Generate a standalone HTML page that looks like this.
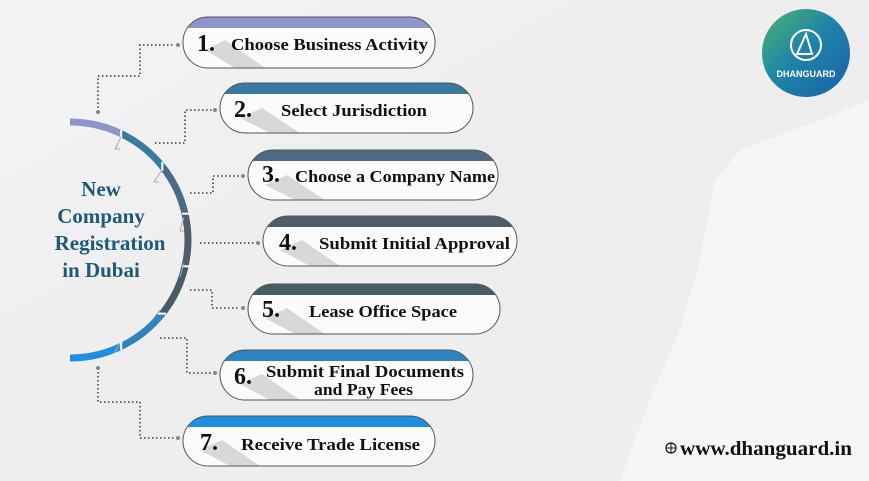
<!DOCTYPE html>
<html><head><style>
html,body{margin:0;padding:0;width:869px;height:481px;overflow:hidden;background:#f1f1f1}
svg{display:block}
text{font-family:"Liberation Serif",serif;font-weight:bold}
</style></head><body>
<svg width="869" height="481" viewBox="0 0 869 481" xmlns="http://www.w3.org/2000/svg">
<defs>
<linearGradient id="bg" x1="0" y1="0" x2="1" y2="1">
<stop offset="0" stop-color="#f4f4f4"/><stop offset="0.5" stop-color="#ededed"/><stop offset="1" stop-color="#f0f0f0"/></linearGradient>
<linearGradient id="logo" x1="0" y1="0" x2="1" y2="1">
<stop offset="0" stop-color="#4fb36b"/><stop offset="0.45" stop-color="#1f86a8"/><stop offset="1" stop-color="#1c5ea8"/></linearGradient>
</defs>
<rect width="869" height="481" fill="url(#bg)"/>
<path d="M869 100 L820 120 L740 150 L715 180 L700 260 L680 330 L650 400 L620 481 L869 481 Z" fill="#f6f6f6"/>

<g fill="none" stroke-width="7">
<path d="M70 122 A118 118 0 0 1 121.2 133.7" stroke="#8e95c9"/>
<path d="M121.2 133.7 A118 118 0 0 1 162.3 166.4" stroke="#3a7aa0"/>
<path d="M162.3 166.4 A118 118 0 0 1 185 213.7" stroke="#4d6a85"/>
<path d="M185 213.7 A118 118 0 0 1 185 266.3" stroke="#4f5d68"/>
<path d="M185 266.3 A118 118 0 0 1 162.3 313.6" stroke="#455c66"/>
<path d="M162.3 313.6 A118 118 0 0 1 121.2 346.3" stroke="#2f84bf"/>
<path d="M121.2 346.3 A118 118 0 0 1 70 358" stroke="#1e8fe0"/>
</g>
<g stroke="#ffffff" stroke-width="2">
<line x1="121.2" y1="130" x2="121.2" y2="138"/><line x1="162.3" y1="162" x2="162.3" y2="171"/>
<line x1="182" y1="213.7" x2="189" y2="213.7"/><line x1="182" y1="266.3" x2="189" y2="266.3"/>
<line x1="158" y1="313.6" x2="166" y2="313.6"/><line x1="121.2" y1="342" x2="121.2" y2="350"/>
</g>
<g fill="none" stroke="#aaa" stroke-width="1">
<path d="M121 137 l-6 12 h5"/><path d="M162 170 l-8 12 h5"/><path d="M184 217 l-4 14 h4"/>
<path d="M184 263 l-4 14"/><path d="M160 310 l-8 10"/><path d="M120 343 l-6 10"/>
</g>
<text x="101" y="196" font-size="21" fill="#1d5a7a" text-anchor="middle">New</text>
<text x="101" y="223" font-size="21" fill="#1d5a7a" text-anchor="middle">Company</text>
<text x="110" y="250" font-size="21" fill="#1d5a7a" text-anchor="middle">Registration</text>
<text x="101" y="277" font-size="21" fill="#1d5a7a" text-anchor="middle">in Dubai</text>

<g fill="none" stroke="#666" stroke-width="2" stroke-dasharray="1.5 2.5">
<path d="M98 112 V76 H140 V45 H175"/>
<path d="M155 143 H185 V110 H212"/>
<path d="M190 193 H213 V176 H240"/>
<path d="M200 243 H255"/>
<path d="M190 290 H212 V308 H240"/>
<path d="M160 338 H187 V373 H212"/>
<path d="M98 368 V402 H140 V438 H175"/>
</g>
<g fill="#888"><circle cx="178" cy="45" r="2"/><circle cx="215" cy="110" r="2"/><circle cx="243" cy="176" r="2"/><circle cx="258" cy="243" r="2"/><circle cx="243" cy="308" r="2"/><circle cx="215" cy="373" r="2"/><circle cx="178" cy="438" r="2"/><circle cx="98" cy="368" r="2"/><circle cx="98" cy="112" r="2"/></g>

<g>
<clipPath id="c1"><rect x="183" y="17" width="252" height="51" rx="25"/></clipPath>
<rect x="183" y="17" width="252" height="51" rx="25" fill="#fbfbfb"/>
<g clip-path="url(#c1)"><rect x="183" y="17" width="252" height="11" fill="#8e95c9"/><polygon points="205,50 225,40 265,68 235,68" fill="#d8d8d8"/></g>
<rect x="183" y="17" width="252" height="51" rx="25" fill="none" stroke="#555" stroke-width="1"/>
<text x="197" y="51" font-size="24" fill="#111">1.</text>
<text x="231" y="50" font-size="17" fill="#111" textLength="197" lengthAdjust="spacingAndGlyphs">Choose Business Activity</text>
</g>
<g>
<clipPath id="c2"><rect x="220" y="83" width="253" height="50" rx="25"/></clipPath>
<rect x="220" y="83" width="253" height="50" rx="25" fill="#fbfbfb"/>
<g clip-path="url(#c2)"><rect x="220" y="83" width="253" height="11" fill="#3a7aa0"/><polygon points="240,118 262,108 300,133 270,133" fill="#d8d8d8"/></g>
<rect x="220" y="83" width="253" height="50" rx="25" fill="none" stroke="#555"/>
<text x="234" y="117" font-size="24" fill="#111">2.</text>
<text x="281" y="116" font-size="17" fill="#111" textLength="146" lengthAdjust="spacingAndGlyphs">Select Jurisdiction</text>
</g>
<g>
<clipPath id="c3"><rect x="248" y="150" width="250" height="50" rx="25"/></clipPath>
<rect x="248" y="150" width="250" height="50" rx="25" fill="#fbfbfb"/>
<g clip-path="url(#c3)"><rect x="248" y="150" width="250" height="11" fill="#4d6a85"/><polygon points="265,185 287,175 325,200 295,200" fill="#d8d8d8"/></g>
<rect x="248" y="150" width="250" height="50" rx="25" fill="none" stroke="#555"/>
<text x="262" y="182" font-size="24" fill="#111">3.</text>
<text x="295" y="182" font-size="17" fill="#111" textLength="200" lengthAdjust="spacingAndGlyphs">Choose a Company Name</text>
</g>
<g>
<clipPath id="c4"><rect x="263" y="216" width="254" height="50" rx="25"/></clipPath>
<rect x="263" y="216" width="254" height="50" rx="25" fill="#fbfbfb"/>
<g clip-path="url(#c4)"><rect x="263" y="216" width="254" height="11" fill="#4f5d68"/><polygon points="280,250 302,240 340,266 310,266" fill="#d8d8d8"/></g>
<rect x="263" y="216" width="254" height="50" rx="25" fill="none" stroke="#555"/>
<text x="279" y="250" font-size="24" fill="#111">4.</text>
<text x="319" y="249" font-size="17" fill="#111" textLength="191" lengthAdjust="spacingAndGlyphs">Submit Initial Approval</text>
</g>
<g>
<clipPath id="c5"><rect x="248" y="284" width="252" height="50" rx="25"/></clipPath>
<rect x="248" y="284" width="252" height="50" rx="25" fill="#fbfbfb"/>
<g clip-path="url(#c5)"><rect x="248" y="284" width="252" height="11" fill="#455c66"/><polygon points="265,318 287,308 325,334 295,334" fill="#d8d8d8"/></g>
<rect x="248" y="284" width="252" height="50" rx="25" fill="none" stroke="#555"/>
<text x="262" y="317" font-size="24" fill="#111">5.</text>
<text x="309" y="317" font-size="17" fill="#111" textLength="148" lengthAdjust="spacingAndGlyphs">Lease Office Space</text>
</g>
<g>
<clipPath id="c6"><rect x="220" y="350" width="253" height="50" rx="25"/></clipPath>
<rect x="220" y="350" width="253" height="50" rx="25" fill="#fbfbfb"/>
<g clip-path="url(#c6)"><rect x="220" y="350" width="253" height="11" fill="#2f84bf"/><polygon points="240,384 262,374 300,400 270,400" fill="#d8d8d8"/></g>
<rect x="220" y="350" width="253" height="50" rx="25" fill="none" stroke="#555"/>
<text x="234" y="384" font-size="24" fill="#111">6.</text>
<text x="266" y="377" font-size="17" fill="#111" textLength="198" lengthAdjust="spacingAndGlyphs">Submit Final Documents</text>
<text x="314" y="395" font-size="17" fill="#111" textLength="99" lengthAdjust="spacingAndGlyphs">and Pay Fees</text>
</g>
<g>
<clipPath id="c7"><rect x="183" y="416" width="252" height="50" rx="25"/></clipPath>
<rect x="183" y="416" width="252" height="50" rx="25" fill="#fbfbfb"/>
<g clip-path="url(#c7)"><rect x="183" y="416" width="252" height="11" fill="#1e8fe0"/><polygon points="200,450 222,440 260,466 230,466" fill="#d8d8d8"/></g>
<rect x="183" y="416" width="252" height="50" rx="25" fill="none" stroke="#555"/>
<text x="200" y="450" font-size="24" fill="#111">7.</text>
<text x="241" y="450" font-size="17" fill="#111" textLength="179" lengthAdjust="spacingAndGlyphs">Receive Trade License</text>
</g>

<circle cx="806" cy="53" r="44" fill="url(#logo)"/>
<circle cx="806" cy="45" r="15" fill="none" stroke="#fff" stroke-width="2"/>
<path d="M797 54 L806 34 L812 54 Z" fill="none" stroke="#fff" stroke-width="2"/>
<text x="806" y="77" font-size="9" fill="#fff" text-anchor="middle" style="font-family:'Liberation Sans',sans-serif">DHANGUARD</text>

<circle cx="671" cy="448" r="5" fill="none" stroke="#111" stroke-width="1.2"/>
<line x1="666" y1="448" x2="676" y2="448" stroke="#111"/><line x1="671" y1="443" x2="671" y2="453" stroke="#111"/>
<text x="680" y="455" font-size="20" fill="#111" textLength="172" lengthAdjust="spacingAndGlyphs">www.dhanguard.in</text>
</svg>
</body></html>
